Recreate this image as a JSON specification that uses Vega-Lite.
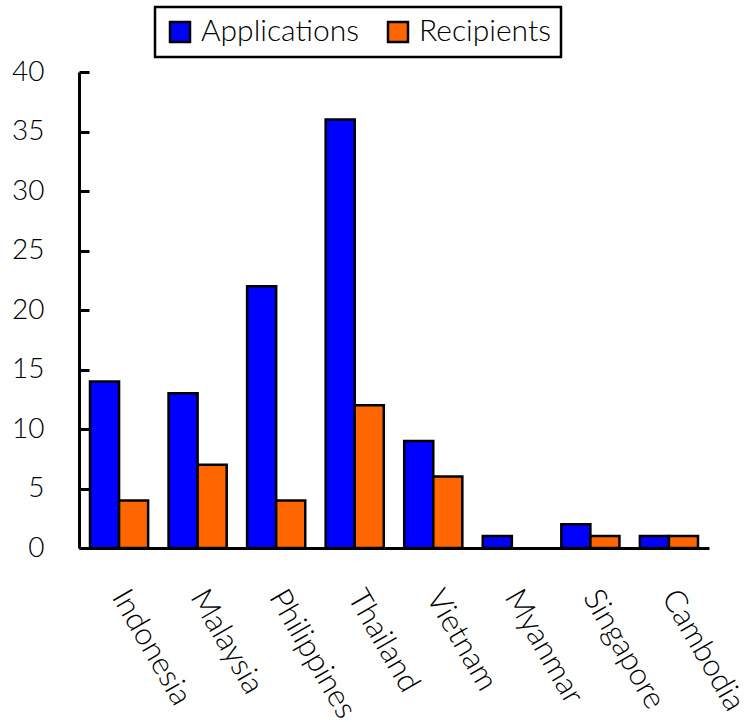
{
  "$schema": "https://vega.github.io/schema/vega-lite/v6.json",
  "width": 630,
  "height": 476,
  "autosize": {"type": "none"},
  "padding": {"left": 79, "top": 72, "right": 39, "bottom": 174},
  "background": "white",
  "config": {
    "view": {"stroke": null},
    "font": "Lato",
    "axis": {"labelFont": "Lato", "labelColor": "#000000", "domainColor": "#000000", "tickColor": "#000000"}
  },
  "data": {
    "values": [
      {"country": "Indonesia", "series": "Applications", "count": 14},
      {"country": "Indonesia", "series": "Recipients", "count": 4},
      {"country": "Malaysia", "series": "Applications", "count": 13},
      {"country": "Malaysia", "series": "Recipients", "count": 7},
      {"country": "Philippines", "series": "Applications", "count": 22},
      {"country": "Philippines", "series": "Recipients", "count": 4},
      {"country": "Thailand", "series": "Applications", "count": 36},
      {"country": "Thailand", "series": "Recipients", "count": 12},
      {"country": "Vietnam", "series": "Applications", "count": 9},
      {"country": "Vietnam", "series": "Recipients", "count": 6},
      {"country": "Myanmar", "series": "Applications", "count": 1},
      {"country": "Myanmar", "series": "Recipients", "count": 0},
      {"country": "Singapore", "series": "Applications", "count": 2},
      {"country": "Singapore", "series": "Recipients", "count": 1},
      {"country": "Cambodia", "series": "Applications", "count": 1},
      {"country": "Cambodia", "series": "Recipients", "count": 1}
    ]
  },
  "transform": [{"filter": "datum.count > 0"}],
  "mark": {"type": "bar", "stroke": "#000000", "strokeWidth": 2.5},
  "encoding": {
    "x": {
      "field": "country",
      "type": "nominal",
      "sort": null,
      "scale": {"paddingInner": 0.26, "paddingOuter": 0.14},
      "axis": {
        "title": null,
        "ticks": false,
        "domainWidth": 3,
        "labelAngle": 60,
        "labelAlign": "left",
        "labelBaseline": "middle",
        "labelPadding": 44,
        "labelFontSize": 31,
        "labelFontWeight": 300
      }
    },
    "xOffset": {"field": "series", "type": "nominal", "sort": ["Applications", "Recipients"], "scale": {"paddingInner": 0}},
    "y": {
      "field": "count",
      "type": "quantitative",
      "scale": {"domain": [0, 40], "nice": false},
      "axis": {
        "title": null,
        "values": [0, 5, 10, 15, 20, 25, 30, 35, 40],
        "grid": false,
        "domainWidth": 3,
        "tickWidth": 3,
        "tickSize": -10,
        "labelPadding": 45,
        "labelFontSize": 28,
        "labelFontWeight": 300
      }
    },
    "color": {
      "field": "series",
      "type": "nominal",
      "scale": {"domain": ["Applications", "Recipients"], "range": ["#0000FF", "#FF6600"]},
      "legend": {
        "title": null,
        "orient": "none",
        "legendX": 76,
        "legendY": -65,
        "direction": "horizontal",
        "strokeColor": "#000000",
        "fillColor": "white",
        "padding": 10,
        "symbolType": "square",
        "symbolSize": 400,
        "symbolStrokeColor": "#000000",
        "symbolStrokeWidth": 2.5,
        "symbolOpacity": 1,
        "labelFontSize": 30,
        "labelFontWeight": 300,
        "labelColor": "#000000",
        "labelOffset": 6,
        "columnPadding": 24,
        "encode": {"legend": {"update": {"strokeWidth": {"value": 2.5}}}}
      }
    }
  }
}
